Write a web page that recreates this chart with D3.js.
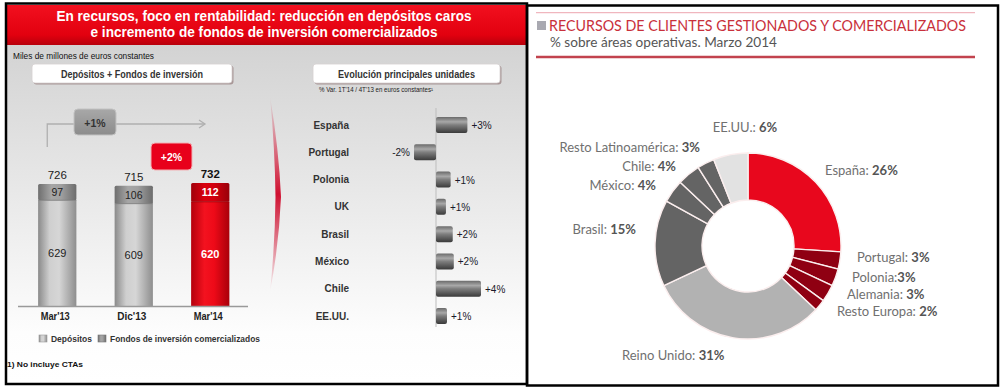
<!DOCTYPE html>
<html><head><meta charset="utf-8">
<script src="https://cdn.jsdelivr.net/npm/d3@7"></script>
<style>body{margin:0;background:#fff}svg{display:block}</style>
</head><body><svg id="c" width="1001" height="392"></svg>
<script>
// ---------------- DATA ----------------
const barCategories = ["Mar'13", "Dic'13", "Mar'14"];
const depositos = [629, 609, 620];
const fondos = [97, 106, 112];
const growthLabels = ["+1%", "+2%"];
const units = ["España", "Portugal", "Polonia", "UK", "Brasil", "México", "Chile", "EE.UU."];
const unitVar = [3.0, -2.1, 1.4, 0.95, 1.6, 1.7, 4.3, 1.05];
const unitVarLabels = ["+3%", "-2%", "+1%", "+1%", "+2%", "+2%", "+4%", "+1%"];
const pieLabels = ["España: ", "Portugal: ", "Polonia:", "Alemania: ", "Resto Europa: ", "Reino Unido: ", "Brasil: ", "México: ", "Chile: ", "Resto Latinoamérica: ", "EE.UU.: "];
const pieValues = [26, 3, 3, 3, 2, 31, 15, 4, 4, 3, 6];

// ---------------- LAYOUT / STYLE ----------------
const pieColors = ["#e8071d", "#8f0012", "#8f0012", "#8f0012", "#8f0012", "#b2b2b2", "#646464", "#646464", "#646464", "#646464", "#e2e2e2"];
const pieLabelPos = [
  {x: 825, y: 175, a: "start"}, {x: 857, y: 262, a: "start"}, {x: 852, y: 282, a: "start"},
  {x: 847, y: 299, a: "start"}, {x: 837, y: 316, a: "start"}, {x: 622, y: 360, a: "start"},
  {x: 636, y: 234, a: "end"}, {x: 656, y: 190, a: "end"}, {x: 676, y: 171, a: "end"},
  {x: 700, y: 152, a: "end"}, {x: 745, y: 132, a: "middle"}
];
const ARIAL = "'Liberation Sans', Arial, sans-serif";
const LATO = "Lato, 'Open Sans', sans-serif";

const svg = d3.select("#c");
const defs = svg.append("defs");
function lin(id, stops, vertical) {
  const g = defs.append("linearGradient").attr("id", id)
    .attr("x1", 0).attr("y1", 0).attr("x2", vertical ? 0 : 1).attr("y2", vertical ? 1 : 0);
  stops.forEach(s => g.append("stop").attr("offset", s[0]).attr("stop-color", s[1]).attr("stop-opacity", s[2] == null ? 1 : s[2]));
}
lin("hdr", [[0, "#f2101f"], [0.75, "#e2000f"], [1, "#b8000c"]], true);
lin("body", [[0, "#d3d3d3"], [0.55, "#eeeeee"], [0.85, "#fdfdfd"], [1, "#ffffff"]], true);
lin("greyBar", [[0, "#8a8a8a"], [0.3, "#cfcfcf"], [0.55, "#d6d6d6"], [1, "#8e8e8e"]]);
lin("greyTop", [[0, "#6e6e6e"], [0.35, "#a6a6a6"], [0.6, "#a0a0a0"], [1, "#6c6c6c"]]);
lin("redBar", [[0, "#b4000c"], [0.35, "#f3121f"], [0.6, "#ee0a18"], [1, "#a9000a"]]);
lin("redTop", [[0, "#a0000a"], [0.35, "#d8000f"], [0.6, "#d2000e"], [1, "#98000a"]]);
lin("hbar", [[0, "#6a6a6a"], [0.3, "#a8a8a8"], [0.5, "#7e7e7e"], [1, "#3a3a3a"]], true);
lin("box1", [[0, "#a8a8a8"], [1, "#8c8c8c"]], true);
lin("chev", [[0, "#d01030", 0], [0.5, "#d01030", 1], [1, "#d01030", 0]], true);

function txt(g, x, y, s, o = {}) {
  const t = g.append("text").attr("x", x).attr("y", y).text(s)
    .attr("font-family", o.ff || ARIAL).attr("font-size", o.fs || 10)
    .attr("font-weight", o.fw || "normal").attr("fill", o.fill || "#222")
    .attr("text-anchor", o.a || "start");
  if (o.w) t.attr("textLength", o.w).attr("lengthAdjust", "spacingAndGlyphs");
  return t;
}

// ================= LEFT PANEL =================
const L = svg.append("g");
L.append("rect").attr("x", 7).attr("y", 45).attr("width", 519).attr("height", 338).attr("fill", "url(#body)");
L.append("rect").attr("x", 7).attr("y", 5).attr("width", 519).attr("height", 40).attr("fill", "url(#hdr)");
txt(L, 264, 21, "En recursos, foco en rentabilidad: reducción en depósitos caros", {fs: 15, fw: "bold", fill: "#fff", a: "middle", w: 415});
txt(L, 264, 37, "e incremento de fondos de inversión comercializados", {fs: 15, fw: "bold", fill: "#fff", a: "middle", w: 347});
txt(L, 13, 59, "Miles de millones de euros constantes", {fs: 9, fill: "#111", w: 141});

// title boxes
[[32, 232, "Depósitos + Fondos de inversión", 142], [313, 500, "Evolución principales unidades", 137]].forEach(b => {
  L.append("rect").attr("x", b[0] + 1.5).attr("y", 65.5).attr("width", b[1] - b[0]).attr("height", 19).attr("rx", 3).attr("fill", "#a89797");
  L.append("rect").attr("x", b[0]).attr("y", 64).attr("width", b[1] - b[0]).attr("height", 19).attr("rx", 3).attr("fill", "#fff").attr("stroke", "#d6d0d0").attr("stroke-width", 0.8);
  txt(L, (b[0] + b[1]) / 2, 77.5, b[2], {fs: 11.5, fw: "bold", fill: "#333", a: "middle", w: b[3]});
});
txt(L, 319, 92, "% Var.  1T'14  / 4T'13 en euros constantes¹", {fs: 7, fill: "#222", w: 114});

// ---- stacked cylinder bars ----
const x = d3.scaleBand().domain(barCategories).range([19, 248.5]).paddingInner(0.5).paddingOuter(0.25);
const y = d3.scaleLinear().domain([0, 732]).range([306, 183]);
barCategories.forEach((c, i) => {
  const red = i === barCategories.length - 1;
  const bx = x(c), bw = x.bandwidth();
  const tot = depositos[i] + fondos[i];
  L.append("rect").attr("x", bx).attr("y", y(depositos[i])).attr("width", bw)
    .attr("height", y(0) - y(depositos[i])).attr("fill", red ? "url(#redBar)" : "url(#greyBar)");
  L.append("rect").attr("x", bx).attr("y", y(tot)).attr("width", bw)
    .attr("height", y(depositos[i]) - y(tot)).attr("rx", 1.5).attr("fill", red ? "url(#redTop)" : "url(#greyTop)");
  L.append("line").attr("x1", bx).attr("x2", bx + bw).attr("y1", y(depositos[i])).attr("y2", y(depositos[i]))
    .attr("stroke", red ? "#9a0008" : "#7a7a7a").attr("stroke-width", 0.8);
  const cx = bx + bw / 2;
  txt(L, cx, y(tot) - 5, tot, {fs: 11.5, fw: red ? "bold" : "normal", fill: red ? "#111" : "#222", a: "middle"});
  txt(L, cx, (y(tot) + y(depositos[i])) / 2 + 4, fondos[i], {fs: 10.5, fw: red ? "bold" : "normal", fill: red ? "#fff" : "#222", a: "middle"});
  txt(L, cx, (y(depositos[i]) + y(0)) / 2 + 4, depositos[i], {fs: 11, fw: red ? "bold" : "normal", fill: red ? "#fff" : "#222", a: "middle"});
  txt(L, cx - 2, 320, c, {fs: 10, fw: "bold", fill: "#222", a: "middle", w: 29});
});
L.append("line").attr("x1", 18).attr("x2", 248).attr("y1", 306.5).attr("y2", 306.5).attr("stroke", "#9a9a9a").attr("stroke-width", 1.3);

// growth annotations
const gx1 = x(barCategories[0]) + x.bandwidth() / 2 - 10;
L.append("path").attr("d", `M${gx1},147 V124 H205`).attr("fill", "none").attr("stroke", "#b0b0b0").attr("stroke-width", 1.3);
L.append("path").attr("d", "M199,120 L205,124 L199,128").attr("fill", "none").attr("stroke", "#b0b0b0").attr("stroke-width", 1.3);
L.append("rect").attr("x", 74).attr("y", 109).attr("width", 42).attr("height", 26).attr("rx", 4).attr("fill", "url(#box1)").attr("stroke", "#c2c2c2");
txt(L, 95, 127, growthLabels[0], {fs: 10.5, fw: "bold", fill: "#333", a: "middle"});
L.append("rect").attr("x", 151).attr("y", 143).attr("width", 41).attr("height", 27).attr("rx", 4).attr("fill", "#e8001b").attr("stroke", "#f2b0b4");
txt(L, 171.5, 161, growthLabels[1], {fs: 10.5, fw: "bold", fill: "#fff", a: "middle"});

// legend
L.append("rect").attr("x", 39).attr("y", 335).attr("width", 8).attr("height", 7).attr("fill", "url(#greyBar)").attr("stroke", "#999").attr("stroke-width", 0.6);
txt(L, 51, 342, "Depósitos", {fs: 8.5, fw: "bold", fill: "#333", w: 41});
L.append("rect").attr("x", 98).attr("y", 335).attr("width", 8).attr("height", 7).attr("fill", "url(#greyTop)").attr("stroke", "#777").attr("stroke-width", 0.6);
txt(L, 110, 342, "Fondos de inversión comercializados", {fs: 8.5, fw: "bold", fill: "#333", w: 150});
txt(L, 7, 367, "1)  No incluye CTAs", {fs: 8, fw: "bold", fill: "#111", w: 76});

// red chevron separator
L.append("path").attr("d", "M270,96 Q279,150 281,197 Q279,245 270,292 Q275,245 275.5,197 Q275,150 270,96 Z").attr("fill", "url(#chev)");

// ---- horizontal bars ----
const hx = d3.scaleLinear().domain([0, 4.3]).range([436, 481]);
const hy = d3.scalePoint().domain(units).range([125, 316]);
L.append("line").attr("x1", hx(0)).attr("x2", hx(0)).attr("y1", 108).attr("y2", 327).attr("stroke", "#bdbdbd").attr("stroke-width", 1);
units.forEach((u, i) => {
  const v = unitVar[i], cy = hy(u);
  L.append("rect").attr("x", Math.min(hx(0), hx(v))).attr("y", cy - 8).attr("width", Math.abs(hx(v) - hx(0)))
    .attr("height", 16).attr("rx", 2).attr("fill", "url(#hbar)");
  txt(L, 349, cy + 3.5, u, {fs: 10, fw: "bold", fill: "#333", a: "end"});
  txt(L, v >= 0 ? hx(v) + 4 : hx(v) - 4, cy + 4, unitVarLabels[i], {fs: 10, fill: "#1a1a2a", a: v >= 0 ? "start" : "end"});
});

// ================= RIGHT PANEL =================
const R = svg.append("g");
R.append("line").attr("x1", 536).attr("x2", 975).attr("y1", 12.7).attr("y2", 12.7).attr("stroke", "#f0b6be").attr("stroke-width", 1.2);
R.append("rect").attr("x", 537).attr("y", 21).attr("width", 9).attr("height", 9).attr("fill", "#a9a9b1");
txt(R, 549, 31, "RECURSOS DE CLIENTES GESTIONADOS Y COMERCIALIZADOS", {ff: LATO, fs: 15, fill: "#c9303b", w: 417});
txt(R, 550, 47, "% sobre áreas operativas. Marzo 2014", {ff: LATO, fs: 13, fill: "#555", w: 227});
R.append("line").attr("x1", 536).attr("x2", 975).attr("y1", 57).attr("y2", 57).attr("stroke", "#c2434e").attr("stroke-width", 2.5);

const pie = d3.pie().sort(null).value(d => d);
const arc = d3.arc().innerRadius(46).outerRadius(93);
const P = R.append("g").attr("transform", "translate(748,246)");
P.selectAll("path").data(pie(pieValues)).join("path")
  .attr("d", arc).attr("fill", (d, i) => pieColors[i])
  .attr("stroke", "#fbeeee").attr("stroke-width", 1.4);

pieLabels.forEach((n, i) => {
  const p = pieLabelPos[i];
  const t = txt(R, p.x, p.y, "", {ff: LATO, fs: 13, fill: "#707070", a: p.a});
  t.append("tspan").text(n);
  t.append("tspan").attr("font-weight", "bold").attr("fill", "#555").text(pieValues[i] + "%");
});

// ================= FRAMES =================
svg.append("rect").attr("x", 6).attr("y", 3.5).attr("width", 521).attr("height", 380.5).attr("fill", "none").attr("stroke", "#000").attr("stroke-width", 2.5);
svg.append("rect").attr("x", 527).attr("y", 5.5).attr("width", 471).attr("height", 380).attr("fill", "none").attr("stroke", "#000").attr("stroke-width", 2.5);
</script></body></html>
